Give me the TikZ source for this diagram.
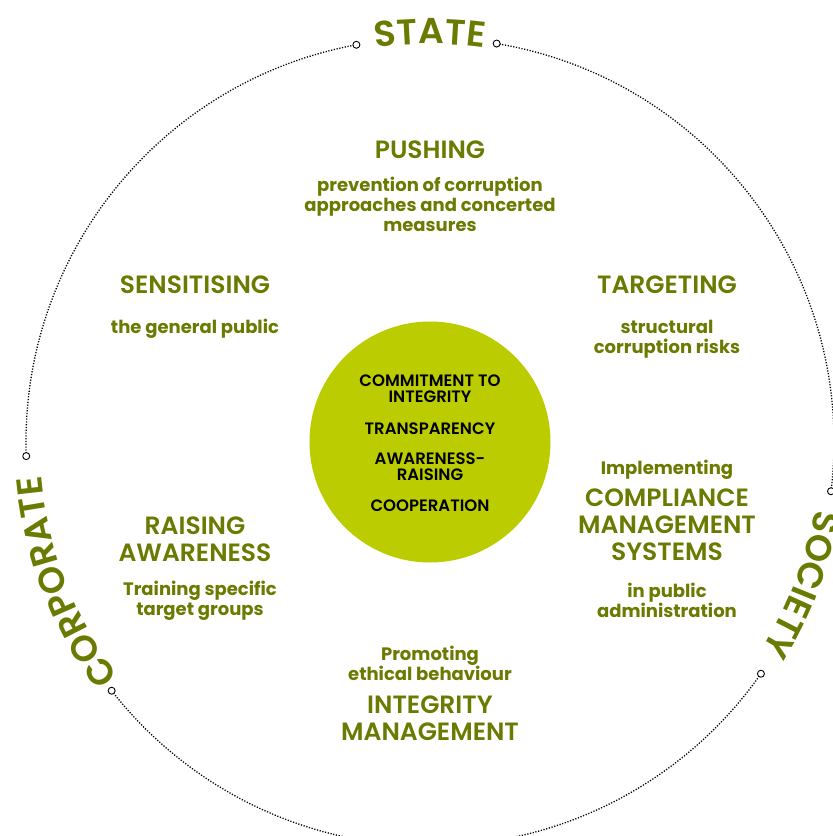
\documentclass[tikz,border=0pt]{standalone}
\usepackage{fontspec}
\setmainfont{Poppins}
\newfontfamily\semifont{Poppins SemiBold}
\usetikzlibrary{decorations.text}
\definecolor{olivetext}{RGB}{107,122,0}
\definecolor{limefill}{RGB}{187,204,0}

\begin{document}
\begin{tikzpicture}[
	x=1pt, y=1pt,
	title/.style={text=olivetext, align=center, font=\semifont\fontsize{25}{27}\selectfont},
	sub/.style={text=olivetext, align=center, font=\bfseries\fontsize{18}{20}\selectfont},
	core/.style={text=black, align=center, font=\semifont\fontsize{16.5}{16}\selectfont},
	marker/.style={circle, draw, fill=white, inner sep=0pt, minimum size=7pt, line width=0.9pt},
	ring/.style={line width=1.3pt, dash pattern=on 1.2pt off 1.6pt},
	arclabel/.style={decorate, decoration={text along path, text align=center,
		text color=olivetext, text={|\semifont\fontsize{36}{36}\selectfont|#1}}}
]
\useasboundingbox (-430,-394) rectangle (403,442);
% core
\node[circle, fill=limefill, minimum size=241pt, inner sep=0pt] (core) at (0,0) {};
\node[core] (commit) at (0,53) {COMMITMENT TO\\INTEGRITY};
\node[core] (transp) at (0,13) {TRANSPARENCY};
\node[core] (aware) at (0,-25) {AWARENESS-\\RAISING};
\node[core] (coop) at (0,-64) {COOPERATION};
% ring
\coordinate (stateL) at (100.5:404);
\coordinate (stateR) at (80.5:404);
\coordinate (socT) at (-7:404);
\coordinate (socB) at (-35:404);
\coordinate (corpB) at (218:404);
\coordinate (corpT) at (182:404);
\draw[ring] (stateR) arc[start angle=80.5, end angle=-7, radius=404];
\draw[ring] (socB) arc[start angle=-35, end angle=-142, radius=404];
\draw[ring] (corpT) arc[start angle=182, end angle=100.5, radius=404];
\foreach \p in {stateL,stateR,socT,socB,corpB,corpT}
	\node[marker] at (\p) {};
\path[arclabel=STATE] (110:398) arc[start angle=110, end angle=70, radius=398];
\path[arclabel=SOCIETY] (2:391) arc[start angle=2, end angle=-44, radius=391];
\path[arclabel=CORPORATE] (222:390) arc[start angle=222, end angle=180, radius=390];
% fields
\node[title] (pushing) at (0,292) {PUSHING};
\node[sub] (pushingtxt) at (0,238) {prevention of corruption\\approaches and concerted\\measures};
\node[title] (sensit) at (-235,157) {SENSITISING};
\node[sub] (sensittxt) at (-235,113) {the general public};
\node[title] (target) at (237,157) {TARGETING};
\node[sub] (targettxt) at (237,103) {structural\\corruption risks};
\node[title] (raising) at (-235,-97) {RAISING\\AWARENESS};
\node[sub] (raisingtxt) at (-230,-159) {Training specific\\target groups};
\node[sub] (complpre) at (237,-28) {Implementing};
\node[title] (compl) at (237,-83) {COMPLIANCE\\MANAGEMENT\\SYSTEMS};
\node[sub] (compltxt) at (237,-158) {in public\\administration};
\node[sub] (integpre) at (0,-221) {Promoting\\ethical behaviour};
\node[title] (integ) at (0,-276) {INTEGRITY\\MANAGEMENT};
\end{tikzpicture}
\end{document}
